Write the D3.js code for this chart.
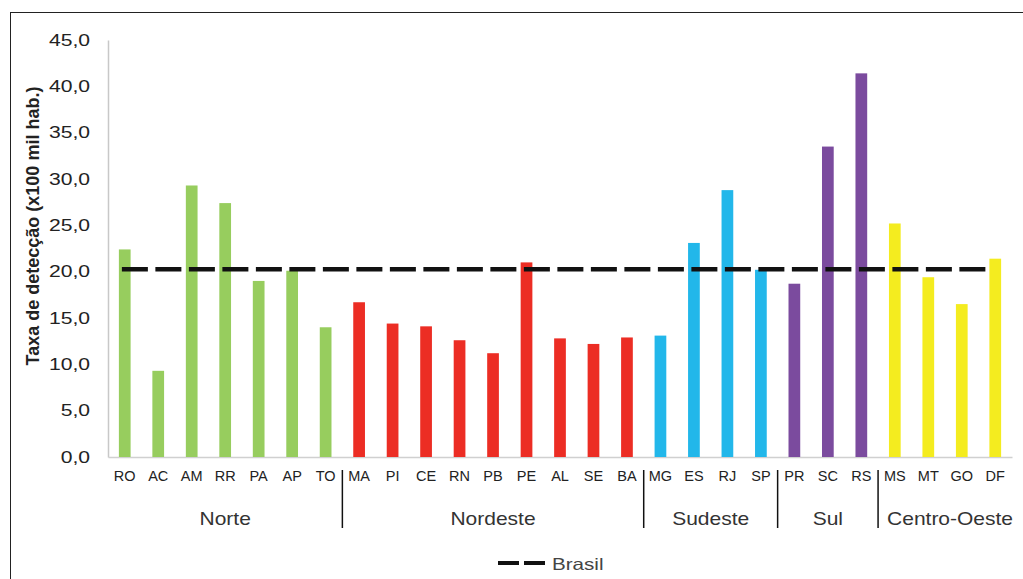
<!DOCTYPE html>
<html lang="pt-BR">
<head>
<meta charset="utf-8">
<script src="https://cdn.jsdelivr.net/npm/d3@7/dist/d3.min.js"></script>
<style>
  html, body { margin: 0; padding: 0; background: #fff; }
  svg { display: block; font-family: "Liberation Sans", Arial, sans-serif; }
</style>
</head>
<body>
<svg id="chart" width="1023" height="579"></svg>
<script>
// Taxa de detecção por unidade da federação, agrupada por região
const states = ["RO","AC","AM","RR","PA","AP","TO",
                "MA","PI","CE","RN","PB","PE","AL","SE","BA",
                "MG","ES","RJ","SP",
                "PR","SC","RS",
                "MS","MT","GO","DF"];
const rates = [22.4, 9.3, 29.3, 27.4, 19.0, 20.1, 14.0,
               16.7, 14.4, 14.1, 12.6, 11.2, 21.0, 12.8, 12.2, 12.9,
               13.1, 23.1, 28.8, 20.2,
               18.7, 33.5, 41.4,
               25.2, 19.4, 16.5, 21.4];
const regions = ["Norte", "Nordeste", "Sudeste", "Sul", "Centro-Oeste"];
const regionSizes = [7, 9, 4, 3, 4];
const regionColors = ["#97cd5e", "#ec2d24", "#22b7ea", "#7b4b9e", "#f4ec1f"];
const brasilRate = 20.25;
const yTicks = [0, 5, 10, 15, 20, 25, 30, 35, 40, 45];

const svg = d3.select("#chart");
const WIDE = 1.28; // horizontal stretch of the wide label lettering

// outer frame
svg.append("rect")
  .attr("x", 10.5).attr("y", 12.5)
  .attr("width", 1040).attr("height", 620)
  .attr("fill", "none").attr("stroke", "#222").attr("stroke-width", 1);

const x = d3.scaleBand().domain(states).range([108, 1012])
  .paddingInner(0.65).paddingOuter(0.325);
const y = d3.scaleLinear().domain([0, 45]).range([457, 40]);

// region index for each state
const stateRegion = [];
regionSizes.forEach((n, r) => { for (let i = 0; i < n; i++) stateRegion.push(r); });

const fmt = v => d3.format(".1f")(v).replace(".", ",");

// y axis
const yAxis = svg.append("g")
  .attr("transform", "translate(108,0)")
  .call(d3.axisLeft(y).tickValues(yTicks).tickFormat(fmt).tickSize(0).tickPadding(18));
yAxis.select(".domain").attr("stroke", "#c8c8c8").attr("stroke-width", 1.5);
yAxis.selectAll("text")
  .attr("font-size", 16.5).attr("fill", "#222")
  .attr("font-family", "Liberation Sans, Arial, sans-serif")
  .attr("x", -18 / WIDE)
  .attr("transform", `scale(${WIDE},1)`);

// x axis
const xAxis = svg.append("g")
  .attr("transform", "translate(0,457)")
  .call(d3.axisBottom(x).tickSize(0).tickPadding(14));
xAxis.select(".domain").attr("stroke", "#d0d0d0").attr("stroke-width", 1.5);
xAxis.selectAll("text")
  .attr("font-size", 14.5).attr("fill", "#222")
  .attr("font-family", "Liberation Sans, Arial, sans-serif");

// bars
svg.append("g").selectAll("rect")
  .data(states)
  .join("rect")
  .attr("x", d => x(d))
  .attr("y", (d, i) => y(rates[i]))
  .attr("width", x.bandwidth())
  .attr("height", (d, i) => y(0) - y(rates[i]))
  .attr("fill", (d, i) => regionColors[stateRegion[i]]);

// national reference line
svg.append("line")
  .attr("x1", x(states[0]) + 3)
  .attr("x2", x(states[states.length - 1]))
  .attr("y1", y(brasilRate)).attr("y2", y(brasilRate))
  .attr("stroke", "#111").attr("stroke-width", 4.5)
  .attr("stroke-dasharray", "26 7.5");

// region separators and names
let start = 0;
regions.forEach((name, r) => {
  const first = states[start];
  const last = states[start + regionSizes[r] - 1];
  const cx = (x(first) + x(last) + x.bandwidth()) / 2 + (r === regions.length - 1 ? 5 : 0);
  svg.append("g")
    .attr("transform", `translate(${cx},525) scale(1.2,1)`)
    .append("text")
    .attr("text-anchor", "middle")
    .attr("font-size", 17.5).attr("fill", "#333")
    .text(name);
  if (r > 0) {
    const bx = x(first) - x.step() * x.paddingInner() / 2;
    svg.append("line")
      .attr("x1", bx).attr("x2", bx)
      .attr("y1", 470).attr("y2", 528)
      .attr("stroke", "#111").attr("stroke-width", 1.5);
  }
  start += regionSizes[r];
});

// y axis title
svg.append("text")
  .attr("transform", "translate(39,226) rotate(-90)")
  .attr("text-anchor", "middle")
  .attr("font-size", 18).attr("font-weight", "bold").attr("fill", "#222")
  .text("Taxa de detecção (x100 mil hab.)");

// legend
svg.append("line")
  .attr("x1", 498).attr("x2", 545)
  .attr("y1", 563).attr("y2", 563)
  .attr("stroke", "#111").attr("stroke-width", 4)
  .attr("stroke-dasharray", "21 5");
svg.append("g")
  .attr("transform", `translate(552,570) scale(1.25,1)`)
  .append("text")
  .attr("font-size", 16.5).attr("fill", "#444")
  .text("Brasil");
</script>
</body>
</html>
